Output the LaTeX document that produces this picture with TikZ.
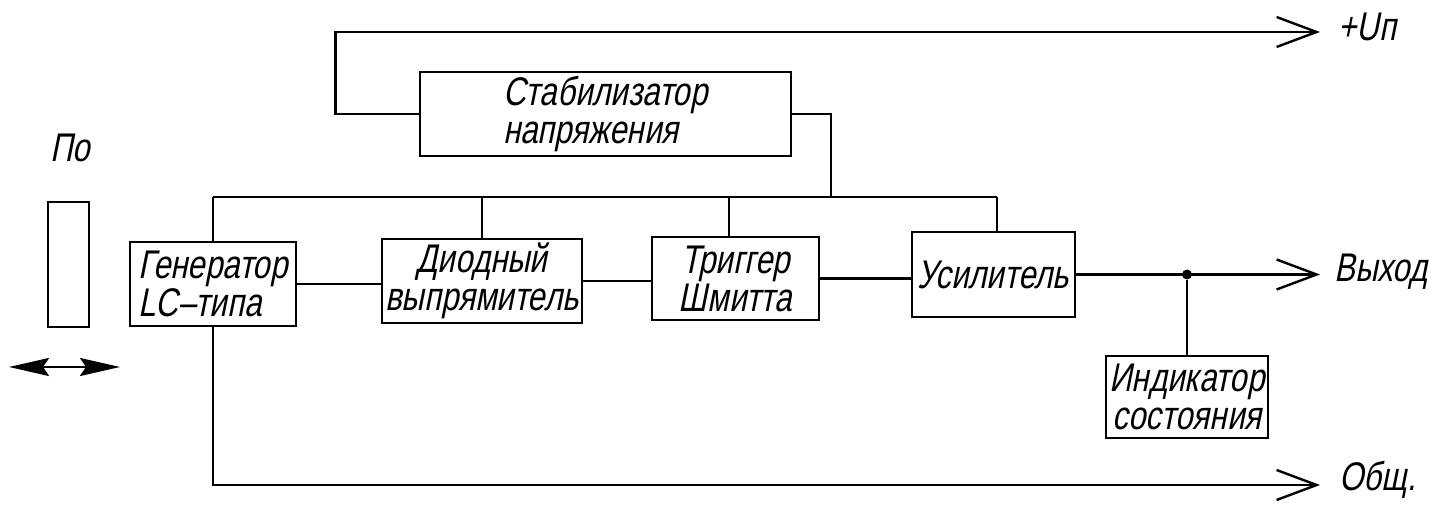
\documentclass[tikz,border=0pt]{standalone}
\usepackage{fontspec}
\setmainfont{Liberation Sans}[FakeStretch=0.78,FakeSlant=0.2]
\usetikzlibrary{arrows.meta,calc}
\tikzset{
  chev/.tip={Straight Barb[length=20pt,width=15pt]},
  fat/.tip={Stealth[length=20pt,width=9pt,inset=3pt]},
  wire/.style={line width=1.2pt},
  blk/.style={draw,line width=1.4pt,inner sep=1pt,font=\fontsize{20}{19}\selectfont},
  lbl/.style={inner sep=0pt,anchor=west,font=\fontsize{20}{19}\selectfont},
}
\begin{document}
\begin{tikzpicture}[x=0.5pt,y=-0.5pt]
\useasboundingbox (0,0) rectangle (1449,522);
% blocks
\node[blk,minimum width=185.5pt,minimum height=42pt,align=left] (stab) at (605.5,114) {Стабилизатор\\напряжения};
\node[blk,minimum width=83pt,minimum height=42pt,align=left] (gen) at (213,284) {Генератор\\LC–типа};
\node[blk,minimum width=100pt,minimum height=42pt,align=center] (diode) at (482,281) {Диодный\\выпрямитель};
\node[blk,minimum width=83.5pt,minimum height=41.5pt,align=center] (trig) at (735.5,278.5) {Триггер\\Шмитта};
\node[blk,minimum width=81.5pt,minimum height=42.5pt,align=center] (amp) at (993.5,274.5) {Усилитель};
\node[blk,minimum width=81pt,minimum height=41pt,align=center] (ind) at (1187,397) {Индикатор\\состояния};
\node[draw,line width=1.4pt,minimum width=20.5pt,minimum height=62.5pt,inner sep=0pt] (sensor) at (68.5,264.5) {};
\node[lbl] (po) at (50,148) {По};
% coordinates
\coordinate (uptip) at (1320,32);
\coordinate (outtip) at (1320,274.5);
\coordinate (gndtip) at (1320,485);
\coordinate (busL) at (213,197);
\coordinate (busS) at (831,197);
\coordinate (busT) at (729,197);
\coordinate (busR) at (997,197);
\coordinate (dl) at (9,367);
\coordinate (dr) at (120,367);
\node[circle,fill,inner sep=0pt,minimum size=5pt] (junc) at (1187,274.5) {};
% labels
\node[lbl] (un) at (1338,27) {+Uп};
\node[lbl] (vyh) at (1334,272) {Выход};
\node[lbl] (obsh) at (1339,480) {Общ.};
% wires
\draw[wire,-chev] (stab.west) -- ++(-83,0) |- (uptip);
\draw[wire] (stab.east) -| (busS);
\draw[wire] (busL) -- (busR);
\draw[wire] (busL) -- (gen.north);
\draw[wire] (diode.north |- busL) -- (diode.north);
\draw[wire] (busT) -- (busT |- trig.north);
\draw[wire] (busR) -- (busR |- amp.north);
\draw[wire] (gen.east) -- (gen.east -| diode.west);
\draw[wire] (diode.east) -- (diode.east -| trig.west);
\draw[wire] (trig.east) -- (trig.east -| amp.west);
\draw[wire,-chev] (amp.east) -- (outtip);
\draw[wire] (junc) -- (ind.north);
\draw[wire,-chev] (gen.south) |- (gndtip);
\draw[wire,fat-fat] (dl) -- (dr);
\end{tikzpicture}
\end{document}
